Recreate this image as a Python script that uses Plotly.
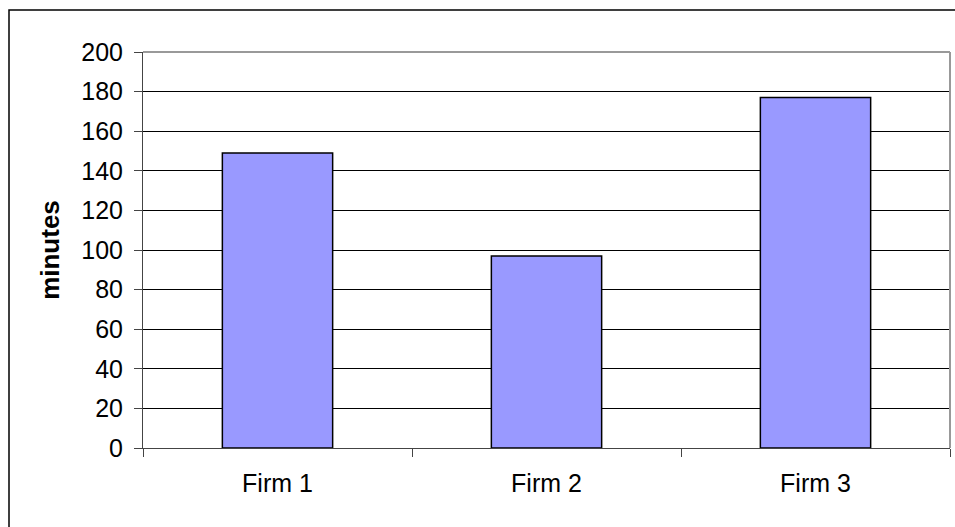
import plotly.graph_objects as go

categories = ["Firm 1", "Firm 2", "Firm 3"]
values = [149, 97, 177]
y_ticks = list(range(0, 201, 20))

FONT = "Liberation Sans, Arial, sans-serif"

fig = go.Figure()
fig.add_trace(go.Bar(
    x=categories, y=values,
    marker=dict(color="#9999FF", line=dict(color="black", width=1.5)),
    width=0.41,
))

fig.update_layout(
    width=955, height=527,
    margin=dict(l=143, r=5, t=52, b=79),
    paper_bgcolor="white", plot_bgcolor="white",
    showlegend=False,
    font=dict(family=FONT, size=25, color="black"),
    xaxis=dict(
        showgrid=False, showline=True, linecolor="#444444", linewidth=1,
        ticks="outside", ticklen=8, tickcolor="#444444",
        tickson="boundaries", ticklabelstandoff=13,
        tickfont=dict(size=25),
    ),
    yaxis=dict(
        range=[0, 200], tickvals=y_ticks,
        showgrid=True, gridcolor="black", gridwidth=1,
        showline=True, linecolor="#444444", linewidth=1,
        ticks="outside", ticklen=8, tickcolor="#444444",
        ticklabelstandoff=6,
        tickfont=dict(size=25), zeroline=False,
        title=dict(text="<b>minutes</b>", font=dict(size=26), standoff=14),
    ),
    shapes=[
        dict(type="line", xref="paper", yref="paper", x0=0, x1=1, y0=1, y1=1,
             line=dict(color="#999999", width=2), layer="above"),
        dict(type="line", xref="paper", yref="paper", x0=1, x1=1, y0=0, y1=1,
             line=dict(color="#999999", width=2), layer="above"),
        dict(type="rect", xref="paper", yref="paper",
             x0=(9 - 143) / 807, x1=1.2, y0=-0.4, y1=(527 - 10 - 79) / 396,
             line=dict(color="black", width=1.5), fillcolor="rgba(0,0,0,0)",
             layer="below"),
    ],
)

fig.write_html("out.html")
